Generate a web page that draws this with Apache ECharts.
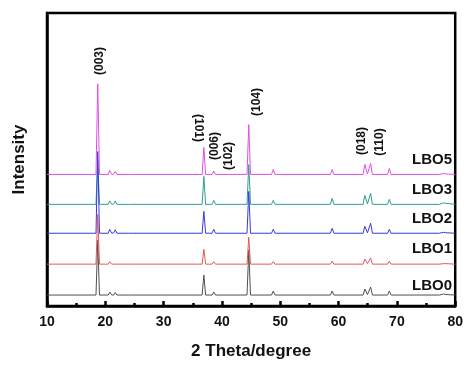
<!DOCTYPE html>
<html>
<head>
<meta charset="utf-8">
<script src="https://cdn.jsdelivr.net/npm/echarts@6/dist/echarts.min.js"></script>
<style>
  html, body { margin: 0; padding: 0; background: #fff; }
  #chart { width: 466px; height: 365px; }
</style>
</head>
<body>
<div id="chart"></div>
<script>
// 2θ positions shared by every pattern (baseline points and peak tops)
var twoTheta = [10, 18.4, 18.7, 19.0, 20.5, 20.75, 21.1, 21.45, 21.7, 22.0, 24.0, 24.3, 24.6,
  36.6, 36.9, 37.2, 37.8, 38.05, 38.3, 38.6, 38.9, 44.3, 44.6, 44.9, 48.5, 48.8, 49.1,
  58.6, 58.9, 59.2, 64.2, 64.5, 64.95, 65.5, 65.8, 68.4, 68.7, 69.0, 77.3, 77.6, 78.0, 78.4, 80];

// intensities (a.u., patterns already stacked with an offset)
var lbo0 = [11, 11, 66, 11, 11, 14, 11, 11, 13.5, 11, 11, 12.5, 11,
  11, 31, 11, 11, 13, 11, 14, 11, 11, 56, 11, 11, 15, 11,
  11, 15, 11, 11, 17, 11.5, 19, 11, 11, 15, 11, 11, 12.5, 12, 11.5, 11];
var lbo1 = [42, 42, 92, 42, 42, 44.5, 42, 42, 44, 42, 42, 43.5, 42,
  42, 57, 42, 42, 43.5, 42, 44.5, 42, 42, 69, 42, 42, 44.5, 42,
  42, 45, 42, 42, 47, 42.5, 48, 42, 42, 45, 42, 42, 43, 42.5, 42.5, 42];
var lbo2 = [73, 73, 155, 73, 73, 77, 73, 73.5, 76.5, 73, 73, 74.5, 73,
  73, 95, 73, 73, 74.5, 73, 77, 73, 73, 115, 73, 73, 77, 73,
  73, 78, 73, 73, 80, 73.5, 83, 73, 73, 77, 73, 73, 74.5, 74, 73.5, 73];
var lbo3 = [102, 102, 147, 102, 102, 105.5, 102, 102.5, 105.5, 102, 102, 103.5, 102,
  102, 130, 102, 102, 103.5, 102, 106, 102, 102, 142, 102, 102, 106, 102,
  102, 108, 102, 102, 111, 102.5, 113, 102, 102, 107, 102, 102, 104, 103.5, 103, 102];
var lbo5 = [132, 132, 223, 132, 132, 136, 132, 132.5, 135, 132, 132, 133.5, 132,
  132, 159, 132, 132, 134, 132, 135.5, 132, 132, 182, 132, 132, 137, 132,
  132, 137, 132, 132, 142, 132.5, 143, 132, 132, 138, 132, 132, 133.5, 133, 132.5, 132];

var sampleNames = ["LBO0", "LBO1", "LBO3", "LBO2", "LBO5"];
var sampleData = [lbo0, lbo1, lbo3, lbo2, lbo5];
var sampleColors = ["#505050", "#e05a5a", "#2f9e90", "#3a3ad8", "#e050e0"];

var xTicks = [10, 20, 30, 40, 50, 60, 70, 80];

function pairs(arr) {
  return twoTheta.map(function (t, i) { return [t, arr[i]]; });
}

var chart = echarts.init(document.getElementById("chart"));

var series = sampleNames.map(function (name, i) {
  return {
    name: name,
    type: "line",
    showSymbol: false,
    silent: true,
    lineStyle: { color: sampleColors[i], width: 1 },
    data: pairs(sampleData[i])
  };
});

var bold = "Arial, 'Liberation Sans', sans-serif";
function peakLabel(text, x, y, ccw) {
  return {
    type: "text", x: x, y: y, rotation: ccw ? Math.PI / 2 : -Math.PI / 2,
    style: { text: text, font: "bold 12px " + bold, fill: "#111", align: "center", verticalAlign: "middle" }
  };
}
function sampleLabel(text, y) {
  return {
    type: "text", x: 452, y: y,
    style: { text: text, font: "bold 15px " + bold, fill: "#111", align: "right", verticalAlign: "middle" }
  };
}

var option = {
  animation: false,
  grid: { left: 47, right: 8, top: 13, bottom: 58, show: true, borderColor: "#000", borderWidth: 2.5 },
  xAxis: {
    type: "value", min: 10, max: 80, interval: 10,
    axisLine: { show: true, lineStyle: { color: "#000", width: 2.5 } },
    axisTick: { show: true, inside: true, length: 5, lineStyle: { color: "#000", width: 2.5 } },
    minorTick: { show: true, splitNumber: 2, length: 3, lineStyle: { color: "#000", width: 2.5 } },
    splitLine: { show: false },
    axisLabel: {
      color: "#111", fontWeight: "bold", fontSize: 14, fontFamily: bold, margin: 9,
      customValues: xTicks
    },
    name: "2 Theta/degree", nameLocation: "middle", nameGap: 37,
    nameTextStyle: { color: "#111", fontWeight: "bold", fontSize: 17, fontFamily: bold }
  },
  yAxis: {
    type: "value", min: 0, max: 294,
    axisLine: { show: true, lineStyle: { color: "#000", width: 2.5 } },
    axisTick: { show: false }, axisLabel: { show: false }, splitLine: { show: false },
    name: "Intensity", nameLocation: "middle", nameGap: 19,
    nameTextStyle: { color: "#111", fontWeight: "bold", fontSize: 17, fontFamily: bold }
  },
  series: series,
  graphic: [
    peakLabel("(003)", 100, 61, true),
    peakLabel("(101)", 198, 128, false),
    peakLabel("(006)", 215, 146, true),
    peakLabel("(102)", 229, 156, true),
    peakLabel("(104)", 257, 102, true),
    peakLabel("(018)", 362, 141, true),
    peakLabel("(110)", 380, 142, true),
    sampleLabel("LBO5", 160),
    sampleLabel("LBO3", 190),
    sampleLabel("LBO2", 219),
    sampleLabel("LBO1", 249),
    sampleLabel("LBO0", 286)
  ]
};

chart.setOption(option);
</script>
</body>
</html>
